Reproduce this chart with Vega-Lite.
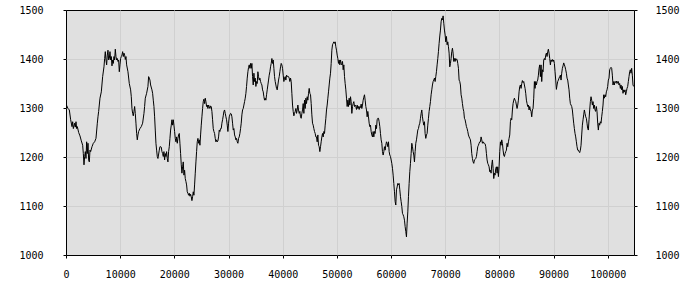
{
"$schema": "https://vega.github.io/schema/vega-lite/v6.json",
"width": 568, "height": 245,
"autosize": {"type": "none"},
"padding": {"left": 66, "top": 10, "right": 66, "bottom": 45},
"background": "#ffffff",
"config": {
 "view": {"fill": "#e0e0e0", "stroke": "#000000", "strokeWidth": 1},
 "axis": {"labelFont": "DejaVu Sans Mono", "labelFontSize": 10, "labelColor": "#000000", "tickColor": "#000000", "tickSize": 3, "domain": false, "gridColor": "#d0d0d0", "gridWidth": 1, "title": null}
},
"data": {"values": [
{"x":0,"y":1308},{"x":123,"y":1305},{"x":369,"y":1299},{"x":615,"y":1296},{"x":861,"y":1276},{"x":1107,"y":1262},{"x":1230,"y":1272},{"x":1353,"y":1258},{"x":1599,"y":1269},{"x":1722,"y":1261},{"x":1845,"y":1272},{"x":1968,"y":1258},{"x":2091,"y":1262},{"x":2337,"y":1250},{"x":2583,"y":1243},{"x":2829,"y":1233},{"x":3075,"y":1224},{"x":3198,"y":1207},{"x":3321,"y":1184},{"x":3444,"y":1201},{"x":3567,"y":1211},{"x":3690,"y":1197},{"x":3813,"y":1231},{"x":3936,"y":1207},{"x":4059,"y":1228},{"x":4182,"y":1194},{"x":4305,"y":1190},{"x":4428,"y":1214},{"x":4551,"y":1211},{"x":4797,"y":1221},{"x":5043,"y":1228},{"x":5289,"y":1231},{"x":5535,"y":1238},{"x":5781,"y":1269},{"x":5904,"y":1282},{"x":6027,"y":1293},{"x":6273,"y":1320},{"x":6519,"y":1333},{"x":6765,"y":1364},{"x":7011,"y":1384},{"x":7134,"y":1401},{"x":7257,"y":1415},{"x":7380,"y":1398},{"x":7503,"y":1388},{"x":7626,"y":1408},{"x":7749,"y":1418},{"x":7872,"y":1398},{"x":7995,"y":1401},{"x":8118,"y":1415},{"x":8241,"y":1398},{"x":8364,"y":1405},{"x":8487,"y":1386},{"x":8610,"y":1398},{"x":8733,"y":1391},{"x":8856,"y":1405},{"x":8979,"y":1398},{"x":9102,"y":1420},{"x":9225,"y":1405},{"x":9348,"y":1398},{"x":9471,"y":1401},{"x":9594,"y":1395},{"x":9717,"y":1398},{"x":9840,"y":1374},{"x":9963,"y":1388},{"x":10086,"y":1401},{"x":10209,"y":1405},{"x":10332,"y":1408},{"x":10455,"y":1415},{"x":10578,"y":1405},{"x":10701,"y":1412},{"x":10824,"y":1408},{"x":10947,"y":1399},{"x":11070,"y":1405},{"x":11193,"y":1388},{"x":11439,"y":1374},{"x":11685,"y":1350},{"x":11931,"y":1337},{"x":12054,"y":1323},{"x":12177,"y":1299},{"x":12300,"y":1289},{"x":12423,"y":1284},{"x":12546,"y":1293},{"x":12669,"y":1303},{"x":12792,"y":1289},{"x":12915,"y":1269},{"x":13038,"y":1248},{"x":13161,"y":1235},{"x":13284,"y":1245},{"x":13407,"y":1252},{"x":13653,"y":1258},{"x":13899,"y":1262},{"x":14145,"y":1269},{"x":14391,"y":1289},{"x":14514,"y":1303},{"x":14637,"y":1320},{"x":14883,"y":1330},{"x":15129,"y":1344},{"x":15252,"y":1364},{"x":15375,"y":1361},{"x":15498,"y":1357},{"x":15621,"y":1347},{"x":15867,"y":1337},{"x":15990,"y":1330},{"x":16113,"y":1316},{"x":16236,"y":1303},{"x":16359,"y":1282},{"x":16482,"y":1255},{"x":16605,"y":1228},{"x":16728,"y":1214},{"x":16851,"y":1201},{"x":16974,"y":1197},{"x":17220,"y":1214},{"x":17343,"y":1221},{"x":17466,"y":1221},{"x":17589,"y":1220},{"x":17712,"y":1211},{"x":17835,"y":1207},{"x":17958,"y":1201},{"x":18081,"y":1211},{"x":18204,"y":1194},{"x":18327,"y":1207},{"x":18450,"y":1201},{"x":18573,"y":1211},{"x":18696,"y":1197},{"x":18819,"y":1190},{"x":18942,"y":1211},{"x":19065,"y":1221},{"x":19188,"y":1238},{"x":19311,"y":1255},{"x":19434,"y":1265},{"x":19557,"y":1276},{"x":19680,"y":1265},{"x":19803,"y":1276},{"x":19926,"y":1265},{"x":20049,"y":1252},{"x":20172,"y":1238},{"x":20295,"y":1231},{"x":20418,"y":1241},{"x":20541,"y":1228},{"x":20664,"y":1238},{"x":20787,"y":1245},{"x":20910,"y":1248},{"x":21033,"y":1228},{"x":21156,"y":1207},{"x":21279,"y":1184},{"x":21402,"y":1167},{"x":21525,"y":1180},{"x":21648,"y":1190},{"x":21771,"y":1163},{"x":21894,"y":1173},{"x":22017,"y":1156},{"x":22140,"y":1150},{"x":22263,"y":1143},{"x":22386,"y":1129},{"x":22509,"y":1126},{"x":22632,"y":1122},{"x":22755,"y":1126},{"x":22878,"y":1120},{"x":23001,"y":1124},{"x":23124,"y":1119},{"x":23247,"y":1111},{"x":23370,"y":1119},{"x":23493,"y":1129},{"x":23616,"y":1122},{"x":23739,"y":1143},{"x":23862,"y":1167},{"x":23985,"y":1190},{"x":24108,"y":1211},{"x":24231,"y":1231},{"x":24354,"y":1238},{"x":24477,"y":1228},{"x":24600,"y":1235},{"x":24723,"y":1224},{"x":24846,"y":1245},{"x":24969,"y":1265},{"x":25092,"y":1282},{"x":25215,"y":1299},{"x":25338,"y":1313},{"x":25461,"y":1318},{"x":25584,"y":1309},{"x":25707,"y":1320},{"x":25830,"y":1313},{"x":25953,"y":1303},{"x":26076,"y":1306},{"x":26199,"y":1299},{"x":26322,"y":1306},{"x":26445,"y":1303},{"x":26568,"y":1299},{"x":26691,"y":1304},{"x":26814,"y":1303},{"x":26937,"y":1293},{"x":27060,"y":1276},{"x":27183,"y":1258},{"x":27306,"y":1252},{"x":27429,"y":1248},{"x":27552,"y":1238},{"x":27675,"y":1231},{"x":27798,"y":1235},{"x":27921,"y":1231},{"x":28044,"y":1233},{"x":28167,"y":1241},{"x":28290,"y":1255},{"x":28413,"y":1252},{"x":28536,"y":1258},{"x":28659,"y":1258},{"x":28782,"y":1269},{"x":28905,"y":1276},{"x":29028,"y":1284},{"x":29151,"y":1293},{"x":29274,"y":1296},{"x":29397,"y":1289},{"x":29520,"y":1282},{"x":29643,"y":1276},{"x":29766,"y":1265},{"x":29889,"y":1252},{"x":30012,"y":1269},{"x":30135,"y":1282},{"x":30258,"y":1286},{"x":30381,"y":1289},{"x":30504,"y":1288},{"x":30627,"y":1282},{"x":30750,"y":1269},{"x":30873,"y":1255},{"x":30996,"y":1258},{"x":31119,"y":1245},{"x":31242,"y":1241},{"x":31365,"y":1235},{"x":31488,"y":1238},{"x":31611,"y":1231},{"x":31734,"y":1228},{"x":31857,"y":1238},{"x":31980,"y":1241},{"x":32103,"y":1248},{"x":32226,"y":1258},{"x":32349,"y":1269},{"x":32472,"y":1286},{"x":32595,"y":1296},{"x":32718,"y":1299},{"x":32841,"y":1306},{"x":32964,"y":1313},{"x":33087,"y":1320},{"x":33210,"y":1330},{"x":33333,"y":1344},{"x":33456,"y":1361},{"x":33579,"y":1374},{"x":33702,"y":1383},{"x":33825,"y":1388},{"x":33948,"y":1381},{"x":34071,"y":1391},{"x":34194,"y":1381},{"x":34317,"y":1391},{"x":34440,"y":1364},{"x":34563,"y":1347},{"x":34686,"y":1371},{"x":34809,"y":1354},{"x":34932,"y":1361},{"x":35055,"y":1344},{"x":35178,"y":1354},{"x":35301,"y":1350},{"x":35424,"y":1374},{"x":35547,"y":1364},{"x":35670,"y":1357},{"x":35793,"y":1361},{"x":35916,"y":1354},{"x":36039,"y":1350},{"x":36162,"y":1347},{"x":36285,"y":1337},{"x":36408,"y":1333},{"x":36531,"y":1323},{"x":36654,"y":1316},{"x":36777,"y":1320},{"x":36900,"y":1316},{"x":37023,"y":1327},{"x":37146,"y":1337},{"x":37269,"y":1347},{"x":37392,"y":1357},{"x":37515,"y":1367},{"x":37638,"y":1374},{"x":37761,"y":1384},{"x":37884,"y":1391},{"x":38007,"y":1401},{"x":38130,"y":1391},{"x":38253,"y":1398},{"x":38376,"y":1381},{"x":38499,"y":1364},{"x":38622,"y":1354},{"x":38745,"y":1347},{"x":38868,"y":1340},{"x":38991,"y":1337},{"x":39114,"y":1347},{"x":39237,"y":1357},{"x":39360,"y":1364},{"x":39483,"y":1374},{"x":39606,"y":1384},{"x":39729,"y":1391},{"x":39852,"y":1388},{"x":39975,"y":1381},{"x":40098,"y":1367},{"x":40221,"y":1354},{"x":40344,"y":1361},{"x":40467,"y":1364},{"x":40590,"y":1357},{"x":40713,"y":1367},{"x":40836,"y":1364},{"x":40959,"y":1365},{"x":41082,"y":1364},{"x":41205,"y":1361},{"x":41328,"y":1354},{"x":41451,"y":1361},{"x":41574,"y":1354},{"x":41697,"y":1330},{"x":41820,"y":1306},{"x":41943,"y":1293},{"x":42066,"y":1284},{"x":42189,"y":1289},{"x":42312,"y":1293},{"x":42435,"y":1299},{"x":42558,"y":1289},{"x":42681,"y":1296},{"x":42804,"y":1306},{"x":42927,"y":1296},{"x":43050,"y":1289},{"x":43173,"y":1293},{"x":43296,"y":1282},{"x":43419,"y":1279},{"x":43542,"y":1289},{"x":43665,"y":1296},{"x":43788,"y":1309},{"x":43911,"y":1289},{"x":44034,"y":1316},{"x":44157,"y":1299},{"x":44280,"y":1320},{"x":44403,"y":1309},{"x":44526,"y":1323},{"x":44649,"y":1316},{"x":44772,"y":1330},{"x":44895,"y":1340},{"x":45018,"y":1330},{"x":45141,"y":1327},{"x":45264,"y":1309},{"x":45387,"y":1286},{"x":45510,"y":1269},{"x":45633,"y":1265},{"x":45756,"y":1258},{"x":45879,"y":1252},{"x":46002,"y":1248},{"x":46125,"y":1241},{"x":46248,"y":1241},{"x":46371,"y":1231},{"x":46494,"y":1245},{"x":46617,"y":1224},{"x":46740,"y":1221},{"x":46863,"y":1211},{"x":46986,"y":1221},{"x":47109,"y":1231},{"x":47232,"y":1241},{"x":47355,"y":1248},{"x":47478,"y":1241},{"x":47601,"y":1252},{"x":47724,"y":1248},{"x":47847,"y":1265},{"x":47970,"y":1279},{"x":48093,"y":1296},{"x":48216,"y":1306},{"x":48339,"y":1320},{"x":48462,"y":1333},{"x":48585,"y":1347},{"x":48708,"y":1361},{"x":48831,"y":1371},{"x":48954,"y":1391},{"x":49077,"y":1418},{"x":49200,"y":1429},{"x":49323,"y":1432},{"x":49446,"y":1435},{"x":49569,"y":1432},{"x":49692,"y":1435},{"x":49815,"y":1425},{"x":49938,"y":1418},{"x":50061,"y":1408},{"x":50184,"y":1401},{"x":50307,"y":1391},{"x":50430,"y":1398},{"x":50553,"y":1388},{"x":50676,"y":1398},{"x":50799,"y":1391},{"x":50922,"y":1388},{"x":51045,"y":1395},{"x":51168,"y":1378},{"x":51291,"y":1388},{"x":51414,"y":1364},{"x":51537,"y":1350},{"x":51660,"y":1337},{"x":51783,"y":1320},{"x":51906,"y":1303},{"x":52029,"y":1316},{"x":52152,"y":1303},{"x":52275,"y":1320},{"x":52398,"y":1306},{"x":52521,"y":1323},{"x":52644,"y":1313},{"x":52767,"y":1289},{"x":52890,"y":1303},{"x":53013,"y":1309},{"x":53136,"y":1313},{"x":53259,"y":1303},{"x":53382,"y":1306},{"x":53505,"y":1303},{"x":53628,"y":1297},{"x":53751,"y":1306},{"x":53874,"y":1299},{"x":53997,"y":1303},{"x":54120,"y":1297},{"x":54243,"y":1303},{"x":54366,"y":1301},{"x":54489,"y":1308},{"x":54612,"y":1299},{"x":54735,"y":1306},{"x":54858,"y":1316},{"x":54981,"y":1322},{"x":55104,"y":1327},{"x":55227,"y":1316},{"x":55350,"y":1303},{"x":55473,"y":1296},{"x":55596,"y":1282},{"x":55719,"y":1293},{"x":55842,"y":1282},{"x":55965,"y":1269},{"x":56088,"y":1262},{"x":56211,"y":1265},{"x":56334,"y":1252},{"x":56457,"y":1245},{"x":56580,"y":1241},{"x":56703,"y":1252},{"x":56826,"y":1241},{"x":56949,"y":1252},{"x":57072,"y":1248},{"x":57195,"y":1265},{"x":57318,"y":1258},{"x":57441,"y":1276},{"x":57564,"y":1279},{"x":57687,"y":1279},{"x":57810,"y":1272},{"x":57933,"y":1262},{"x":58056,"y":1248},{"x":58179,"y":1235},{"x":58302,"y":1228},{"x":58425,"y":1211},{"x":58548,"y":1204},{"x":58671,"y":1211},{"x":58794,"y":1221},{"x":58917,"y":1214},{"x":59040,"y":1224},{"x":59163,"y":1231},{"x":59286,"y":1228},{"x":59409,"y":1221},{"x":59532,"y":1231},{"x":59655,"y":1211},{"x":59778,"y":1204},{"x":59901,"y":1201},{"x":60024,"y":1194},{"x":60147,"y":1187},{"x":60270,"y":1177},{"x":60393,"y":1163},{"x":60516,"y":1146},{"x":60639,"y":1129},{"x":60762,"y":1109},{"x":60885,"y":1102},{"x":61008,"y":1133},{"x":61131,"y":1139},{"x":61254,"y":1146},{"x":61377,"y":1143},{"x":61500,"y":1146},{"x":61623,"y":1133},{"x":61746,"y":1119},{"x":61869,"y":1109},{"x":61992,"y":1099},{"x":62115,"y":1085},{"x":62238,"y":1082},{"x":62361,"y":1078},{"x":62484,"y":1071},{"x":62607,"y":1058},{"x":62730,"y":1048},{"x":62853,"y":1037},{"x":62976,"y":1065},{"x":63099,"y":1088},{"x":63222,"y":1119},{"x":63345,"y":1146},{"x":63468,"y":1170},{"x":63591,"y":1187},{"x":63714,"y":1207},{"x":63837,"y":1228},{"x":63960,"y":1221},{"x":64083,"y":1211},{"x":64206,"y":1204},{"x":64329,"y":1190},{"x":64452,"y":1211},{"x":64575,"y":1228},{"x":64698,"y":1235},{"x":64821,"y":1245},{"x":64944,"y":1255},{"x":65067,"y":1258},{"x":65190,"y":1265},{"x":65313,"y":1269},{"x":65436,"y":1279},{"x":65559,"y":1289},{"x":65682,"y":1296},{"x":65805,"y":1282},{"x":65928,"y":1272},{"x":66051,"y":1265},{"x":66174,"y":1272},{"x":66297,"y":1248},{"x":66420,"y":1238},{"x":66543,"y":1245},{"x":66666,"y":1248},{"x":66789,"y":1265},{"x":66912,"y":1279},{"x":67035,"y":1293},{"x":67158,"y":1303},{"x":67281,"y":1313},{"x":67404,"y":1327},{"x":67527,"y":1337},{"x":67650,"y":1347},{"x":67773,"y":1354},{"x":67896,"y":1357},{"x":68019,"y":1361},{"x":68142,"y":1354},{"x":68265,"y":1364},{"x":68388,"y":1374},{"x":68511,"y":1388},{"x":68634,"y":1401},{"x":68757,"y":1415},{"x":68880,"y":1432},{"x":69003,"y":1447},{"x":69126,"y":1459},{"x":69249,"y":1476},{"x":69372,"y":1483},{"x":69495,"y":1480},{"x":69618,"y":1488},{"x":69741,"y":1473},{"x":69864,"y":1459},{"x":69987,"y":1449},{"x":70110,"y":1435},{"x":70233,"y":1446},{"x":70356,"y":1429},{"x":70479,"y":1435},{"x":70602,"y":1425},{"x":70725,"y":1412},{"x":70848,"y":1384},{"x":70971,"y":1391},{"x":71094,"y":1401},{"x":71217,"y":1415},{"x":71340,"y":1422},{"x":71463,"y":1412},{"x":71586,"y":1395},{"x":71709,"y":1401},{"x":71832,"y":1395},{"x":71955,"y":1401},{"x":72078,"y":1398},{"x":72201,"y":1399},{"x":72324,"y":1391},{"x":72447,"y":1381},{"x":72570,"y":1357},{"x":72693,"y":1354},{"x":72816,"y":1347},{"x":72939,"y":1327},{"x":73062,"y":1320},{"x":73185,"y":1309},{"x":73308,"y":1299},{"x":73431,"y":1293},{"x":73554,"y":1279},{"x":73677,"y":1276},{"x":73800,"y":1269},{"x":73923,"y":1262},{"x":74046,"y":1258},{"x":74169,"y":1252},{"x":74292,"y":1245},{"x":74415,"y":1241},{"x":74538,"y":1238},{"x":74661,"y":1235},{"x":74784,"y":1224},{"x":74907,"y":1207},{"x":75030,"y":1197},{"x":75153,"y":1190},{"x":75276,"y":1187},{"x":75399,"y":1194},{"x":75522,"y":1195},{"x":75645,"y":1197},{"x":75768,"y":1201},{"x":75891,"y":1211},{"x":76014,"y":1221},{"x":76137,"y":1224},{"x":76260,"y":1228},{"x":76383,"y":1231},{"x":76506,"y":1231},{"x":76629,"y":1241},{"x":76752,"y":1235},{"x":76875,"y":1228},{"x":76998,"y":1231},{"x":77121,"y":1228},{"x":77244,"y":1228},{"x":77367,"y":1227},{"x":77490,"y":1221},{"x":77613,"y":1207},{"x":77736,"y":1194},{"x":77859,"y":1187},{"x":77982,"y":1184},{"x":78105,"y":1180},{"x":78228,"y":1170},{"x":78351,"y":1173},{"x":78474,"y":1167},{"x":78597,"y":1184},{"x":78720,"y":1194},{"x":78843,"y":1177},{"x":78966,"y":1156},{"x":79089,"y":1167},{"x":79212,"y":1163},{"x":79335,"y":1177},{"x":79458,"y":1180},{"x":79581,"y":1167},{"x":79704,"y":1180},{"x":79827,"y":1160},{"x":79950,"y":1180},{"x":80073,"y":1211},{"x":80196,"y":1231},{"x":80319,"y":1224},{"x":80442,"y":1235},{"x":80565,"y":1228},{"x":80688,"y":1214},{"x":80811,"y":1204},{"x":80934,"y":1201},{"x":81057,"y":1207},{"x":81180,"y":1211},{"x":81303,"y":1214},{"x":81426,"y":1228},{"x":81549,"y":1221},{"x":81672,"y":1231},{"x":81795,"y":1238},{"x":81918,"y":1245},{"x":82041,"y":1272},{"x":82164,"y":1279},{"x":82287,"y":1276},{"x":82410,"y":1296},{"x":82533,"y":1309},{"x":82656,"y":1316},{"x":82779,"y":1320},{"x":82902,"y":1316},{"x":83025,"y":1313},{"x":83148,"y":1306},{"x":83271,"y":1299},{"x":83394,"y":1306},{"x":83517,"y":1316},{"x":83640,"y":1333},{"x":83763,"y":1344},{"x":83886,"y":1347},{"x":84009,"y":1340},{"x":84132,"y":1350},{"x":84255,"y":1356},{"x":84378,"y":1352},{"x":84501,"y":1354},{"x":84624,"y":1347},{"x":84747,"y":1340},{"x":84870,"y":1330},{"x":84993,"y":1316},{"x":85116,"y":1309},{"x":85239,"y":1303},{"x":85362,"y":1306},{"x":85485,"y":1296},{"x":85608,"y":1303},{"x":85731,"y":1296},{"x":85854,"y":1293},{"x":85977,"y":1282},{"x":86100,"y":1296},{"x":86223,"y":1299},{"x":86346,"y":1320},{"x":86469,"y":1354},{"x":86592,"y":1340},{"x":86715,"y":1354},{"x":86838,"y":1347},{"x":86961,"y":1354},{"x":87084,"y":1357},{"x":87207,"y":1367},{"x":87330,"y":1381},{"x":87453,"y":1388},{"x":87576,"y":1364},{"x":87699,"y":1388},{"x":87822,"y":1354},{"x":87945,"y":1378},{"x":88068,"y":1374},{"x":88191,"y":1398},{"x":88314,"y":1401},{"x":88437,"y":1398},{"x":88560,"y":1408},{"x":88683,"y":1412},{"x":88806,"y":1405},{"x":88929,"y":1415},{"x":89052,"y":1420},{"x":89175,"y":1412},{"x":89298,"y":1401},{"x":89421,"y":1388},{"x":89544,"y":1398},{"x":89667,"y":1395},{"x":89790,"y":1399},{"x":89913,"y":1395},{"x":90036,"y":1398},{"x":90159,"y":1391},{"x":90282,"y":1374},{"x":90405,"y":1357},{"x":90528,"y":1338},{"x":90651,"y":1347},{"x":90774,"y":1354},{"x":90897,"y":1357},{"x":91020,"y":1361},{"x":91143,"y":1364},{"x":91266,"y":1367},{"x":91389,"y":1357},{"x":91512,"y":1371},{"x":91635,"y":1381},{"x":91758,"y":1386},{"x":91881,"y":1392},{"x":92004,"y":1388},{"x":92127,"y":1384},{"x":92250,"y":1378},{"x":92373,"y":1371},{"x":92496,"y":1361},{"x":92619,"y":1357},{"x":92742,"y":1347},{"x":92865,"y":1337},{"x":92988,"y":1320},{"x":93111,"y":1309},{"x":93234,"y":1306},{"x":93357,"y":1303},{"x":93480,"y":1296},{"x":93603,"y":1282},{"x":93726,"y":1269},{"x":93849,"y":1258},{"x":93972,"y":1248},{"x":94095,"y":1241},{"x":94218,"y":1231},{"x":94341,"y":1221},{"x":94464,"y":1214},{"x":94587,"y":1214},{"x":94710,"y":1211},{"x":94833,"y":1209},{"x":94956,"y":1214},{"x":95079,"y":1224},{"x":95202,"y":1245},{"x":95325,"y":1265},{"x":95448,"y":1276},{"x":95571,"y":1286},{"x":95694,"y":1296},{"x":95817,"y":1289},{"x":95940,"y":1282},{"x":96063,"y":1279},{"x":96186,"y":1269},{"x":96309,"y":1258},{"x":96432,"y":1255},{"x":96555,"y":1276},{"x":96678,"y":1296},{"x":96801,"y":1313},{"x":96924,"y":1323},{"x":97047,"y":1316},{"x":97170,"y":1306},{"x":97293,"y":1313},{"x":97416,"y":1299},{"x":97539,"y":1306},{"x":97662,"y":1296},{"x":97785,"y":1293},{"x":97908,"y":1303},{"x":98031,"y":1293},{"x":98154,"y":1269},{"x":98277,"y":1255},{"x":98400,"y":1269},{"x":98523,"y":1265},{"x":98646,"y":1272},{"x":98769,"y":1269},{"x":98892,"y":1282},{"x":99015,"y":1293},{"x":99138,"y":1306},{"x":99261,"y":1327},{"x":99384,"y":1320},{"x":99507,"y":1327},{"x":99630,"y":1323},{"x":99753,"y":1333},{"x":99876,"y":1337},{"x":99999,"y":1344},{"x":100122,"y":1357},{"x":100245,"y":1361},{"x":100368,"y":1378},{"x":100491,"y":1381},{"x":100614,"y":1383},{"x":100737,"y":1381},{"x":100860,"y":1367},{"x":100983,"y":1347},{"x":101106,"y":1354},{"x":101229,"y":1347},{"x":101352,"y":1354},{"x":101475,"y":1352},{"x":101598,"y":1355},{"x":101721,"y":1350},{"x":101844,"y":1354},{"x":101967,"y":1354},{"x":102090,"y":1347},{"x":102213,"y":1350},{"x":102336,"y":1340},{"x":102459,"y":1347},{"x":102582,"y":1337},{"x":102705,"y":1344},{"x":102828,"y":1330},{"x":102951,"y":1337},{"x":103074,"y":1333},{"x":103197,"y":1337},{"x":103320,"y":1327},{"x":103443,"y":1333},{"x":103566,"y":1340},{"x":103689,"y":1344},{"x":103812,"y":1354},{"x":103935,"y":1364},{"x":104058,"y":1374},{"x":104181,"y":1378},{"x":104304,"y":1371},{"x":104427,"y":1381},{"x":104550,"y":1367},{"x":104673,"y":1347},{"x":104796,"y":1344}
]},
"layer": [
 {
  "mark": {"type": "line", "color": "#000000", "strokeWidth": 1, "clip": true},
  "encoding": {
   "x": {"field": "x", "type": "quantitative", "scale": {"domain": [0, 104857], "nice": false, "zero": false},
         "axis": {"values": [0,10000,20000,30000,40000,50000,60000,70000,80000,90000,100000], "format": "d", "labelFlush": false, "labelPadding": 11, "grid": true, "labelOverlap": false,
                  "gridOpacity": {"condition": {"test": "datum.value === 0", "value": 0}, "value": 1}}},
   "y": {"field": "y", "type": "quantitative", "scale": {"domain": [1000, 1500], "nice": false, "zero": false},
         "axis": {"orient": "left", "values": [1000,1100,1200,1300,1400,1500], "format": "d", "labelPadding": 20, "grid": true, "labelFlush": false,
                  "gridOpacity": {"condition": {"test": "datum.value === 1000 || datum.value === 1500", "value": 0}, "value": 1}}}
  }
 },
 {
  "mark": {"type": "line", "color": "#000000", "strokeWidth": 1, "opacity": 0},
  "encoding": {
   "x": {"field": "x", "type": "quantitative"},
   "y": {"field": "y", "type": "quantitative",
         "axis": {"orient": "right", "values": [1000,1100,1200,1300,1400,1500], "format": "d", "labelPadding": 18, "grid": false, "labelFlush": false}}
  }
 }
],
"resolve": {"axis": {"y": "independent"}}
}
